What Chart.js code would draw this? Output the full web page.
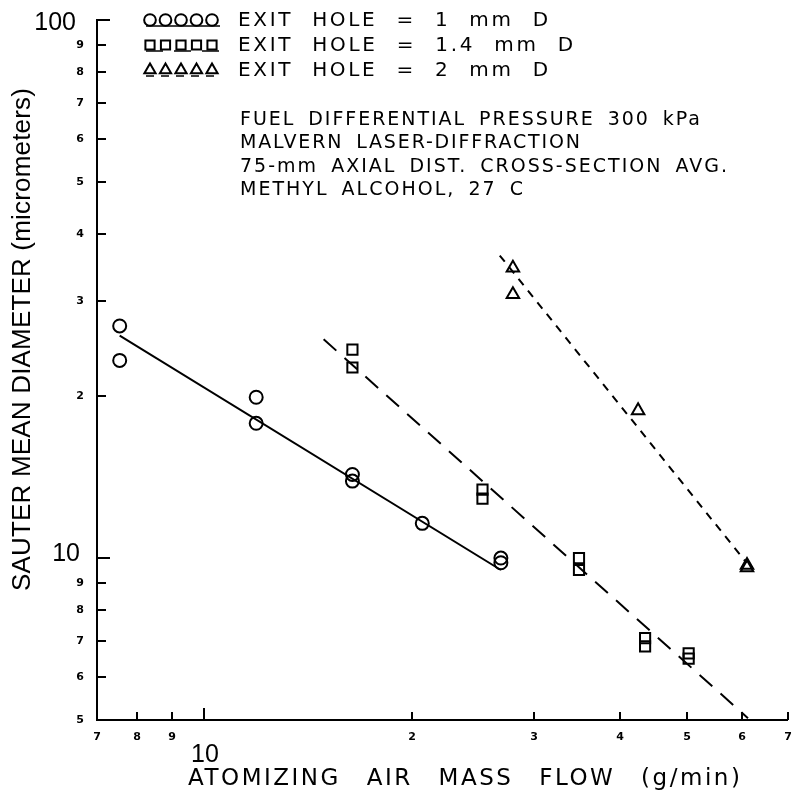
<!DOCTYPE html>
<html>
<head>
<meta charset="utf-8">
<title>Sauter mean diameter vs atomizing air mass flow</title>
<script src="https://cdn.jsdelivr.net/npm/chart.js@4.4.0/dist/chart.umd.min.js"></script>
<style>
html, body { margin: 0; padding: 0; background: #fff; }
#wrap { width: 797px; height: 803px; }
</style>
</head>
<body>
<div id="wrap"><canvas id="smdChart" width="797" height="803"></canvas></div>
<script>
// axis ticks (log-log paper)
const xTicks = [7, 8, 9, 10, 20, 30, 40, 50, 60, 70];
const xTickLabels = ['7', '8', '9', '10', '2', '3', '4', '5', '6', '7'];
const yTicks = [5, 6, 7, 8, 9, 10, 20, 30, 40, 50, 60, 70, 80, 90, 100];
const yTickLabels = ['5', '6', '7', '8', '9', '10', '2', '3', '4', '5', '6', '7', '8', '9', '100'];
const decadeTicks = [10, 100];

// measured points, exit hole 1 mm
const hole1X = [7.55, 7.55, 11.9, 11.9, 16.4, 16.4, 20.7, 26.9, 26.9];
const hole1Y = [27.0, 23.3, 19.9, 17.8, 14.3, 13.9, 11.6, 10.0, 9.8];
// exit hole 1.4 mm
const hole14X = [16.4, 16.4, 25.3, 25.3, 34.9, 34.9, 43.5, 43.5, 50.3, 50.3];
const hole14Y = [24.4, 22.6, 13.4, 12.9, 10.0, 9.5, 7.1, 6.85, 6.65, 6.5];
// exit hole 2 mm
const hole2X = [28.0, 28.0, 42.5, 61.1, 61.1];
const hole2Y = [34.6, 30.9, 18.8, 9.7, 9.6];

// fitted lines (end points)
const fit1X = [7.55, 26.9];
const fit1Y = [25.9, 9.5];
const fit14X = [14.9, 61.3];
const fit14Y = [25.5, 5.04];
const fit2X = [26.8, 61.0];
const fit2Y = [36.5, 9.8];

const legendLabels = ['EXIT HOLE = 1 mm D', 'EXIT HOLE = 1.4 mm D', 'EXIT HOLE = 2 mm D'];
const noteLines = [
    'FUEL DIFFERENTIAL PRESSURE 300 kPa',
    'MALVERN LASER-DIFFRACTION',
    '75-mm AXIAL DIST. CROSS-SECTION AVG.',
    'METHYL ALCOHOL, 27 C'
];
const xTitle = 'ATOMIZING AIR MASS FLOW (g/min)';
const yTitle = 'SAUTER MEAN DIAMETER (micrometers)';

const toPoints = (xs, ys) => xs.map((x, i) => ({ x: x, y: ys[i] }));

// draw text stretched to a given width: fixed extra word gap, letters take the rest
function fitText(ctx, text, x, y, width, wordGap) {
    wordGap = wordGap || 0;
    ctx.letterSpacing = '0px';
    ctx.wordSpacing = '0px';
    const w = ctx.measureText(text).width;
    const spaces = (text.match(/ /g) || []).length;
    const ls = (width - w - spaces * wordGap) / Math.max(text.length - 1, 1);
    ctx.letterSpacing = ls.toFixed(2) + 'px';
    ctx.wordSpacing = wordGap + 'px';
    ctx.fillText(text, x, y);
    ctx.letterSpacing = '0px';
    ctx.wordSpacing = '0px';
}

function drawMarker(ctx, style, r, cx, cy) {
    ctx.beginPath();
    if (style === 'circle') {
        ctx.arc(cx, cy, r, 0, Math.PI * 2);
    } else if (style === 'rect') {
        const s = r * Math.SQRT2 / 2;
        ctx.rect(cx - s, cy - s, s * 2, s * 2);
    } else {
        for (let k = 0; k < 3; k++) {
            const a = k * 2 * Math.PI / 3;
            const px = cx + Math.sin(a) * r, py = cy - Math.cos(a) * r;
            k === 0 ? ctx.moveTo(px, py) : ctx.lineTo(px, py);
        }
        ctx.closePath();
    }
    ctx.stroke();
}

const paperText = {
    id: 'paperText',
    afterDraw(chart) {
        const { ctx, scales: { x, y } } = chart;
        ctx.save();
        ctx.fillStyle = '#000';
        ctx.strokeStyle = '#000';
        ctx.lineWidth = 2;

        // y ticks + labels
        yTicks.forEach((v, i) => {
            const py = Math.round(y.getPixelForValue(v));
            const big = decadeTicks.includes(v);
            ctx.beginPath();
            ctx.moveTo(x.left, py);
            ctx.lineTo(x.left + (big ? 13 : 9), py);
            ctx.stroke();
            ctx.textBaseline = 'middle';
            ctx.textAlign = 'right';
            if (big) {
                ctx.font = '25px "Liberation Sans", Arial, sans-serif';
                const top = v === y.max;
                ctx.fillText(yTickLabels[i], x.left - (top ? 21 : 17), py + (top ? 3 : -4));
            } else {
                ctx.font = 'bold 11px "DejaVu Sans", sans-serif';
                ctx.fillText(yTickLabels[i], x.left - 13, py);
            }
        });

        // x ticks + labels
        xTicks.forEach((v, i) => {
            const px = Math.round(x.getPixelForValue(v));
            const big = decadeTicks.includes(v);
            ctx.beginPath();
            ctx.moveTo(px, y.bottom);
            ctx.lineTo(px, y.bottom - (big ? 12 : 8));
            ctx.stroke();
            ctx.textAlign = 'center';
            ctx.textBaseline = 'middle';
            if (big) {
                ctx.font = '25px "Liberation Sans", Arial, sans-serif';
                ctx.fillText(xTickLabels[i], px + 1, y.bottom + 35);
            } else {
                ctx.font = 'bold 11px "DejaVu Sans", sans-serif';
                ctx.fillText(xTickLabels[i], Math.min(px, 795), y.bottom + 17);
            }
        });

        // legend: five markers with line sample, then text
        const legendWidths = [310, 335, 310];
        legendLabels.forEach((label, i) => {
            const ds = chart.data.datasets[i];
            const fit = chart.data.datasets[i + 3];
            const rowY = 20 + i * 25;
            ctx.lineWidth = 1.6;
            ctx.setLineDash(fit.borderDash || []);
            ctx.beginPath();
            ctx.moveTo(146, rowY + 6);
            ctx.lineTo(220, rowY + 6);
            ctx.stroke();
            ctx.setLineDash([]);
            ctx.lineWidth = 2;
            for (let k = 0; k < 5; k++) {
                drawMarker(ctx, ds.pointStyle, ds.pointRadius * 0.9, 150 + k * 15.5, rowY);
            }
            ctx.font = '20px "DejaVu Sans", sans-serif';
            ctx.textAlign = 'left';
            ctx.textBaseline = 'middle';
            fitText(ctx, label, 238, rowY + 1, legendWidths[i], 10);
        });

        // notes
        const noteWidths = [460, 340, 487, 283];
        ctx.font = '19px "DejaVu Sans", sans-serif';
        noteLines.forEach((line, i) => {
            fitText(ctx, line, 240, 120 + i * 23.3, noteWidths[i], 5);
        });

        // axis titles
        ctx.font = '23px "DejaVu Sans", sans-serif';
        ctx.textBaseline = 'middle';
        fitText(ctx, xTitle, 188, 779, 552, 16);

        ctx.save();
        ctx.translate(23, 591);
        ctx.rotate(-Math.PI / 2);
        ctx.font = '26px "Liberation Sans", Arial, sans-serif';
        fitText(ctx, yTitle, 0, 0, 503, 0);
        ctx.restore();

        ctx.restore();
    }
};

const markerBase = {
    showLine: false,
    borderColor: '#000',
    backgroundColor: 'rgba(0,0,0,0)',
    pointBorderWidth: 2,
    pointBackgroundColor: 'rgba(0,0,0,0)',
    pointBorderColor: '#000'
};
const lineBase = {
    showLine: true,
    borderColor: '#000',
    pointRadius: 0,
    fill: false,
    tension: 0
};

const ctx = document.getElementById('smdChart').getContext('2d');
const chart = new Chart(ctx, {
    type: 'scatter',
    data: {
        datasets: [
            Object.assign({ label: legendLabels[0], data: toPoints(hole1X, hole1Y), pointStyle: 'circle', pointRadius: 6.5 }, markerBase),
            Object.assign({ label: legendLabels[1], data: toPoints(hole14X, hole14Y), pointStyle: 'rect', pointRadius: 7.2 }, markerBase),
            Object.assign({ label: legendLabels[2], data: toPoints(hole2X, hole2Y), pointStyle: 'triangle', pointRadius: 7.2 }, markerBase),
            Object.assign({ label: 'fit 1 mm', data: toPoints(fit1X, fit1Y), borderWidth: 2, borderDash: [] }, lineBase),
            Object.assign({ label: 'fit 1.4 mm', data: toPoints(fit14X, fit14Y), borderWidth: 2, borderDash: [17, 11] }, lineBase),
            Object.assign({ label: 'fit 2 mm', data: toPoints(fit2X, fit2Y), borderWidth: 2, borderDash: [8, 7] }, lineBase)
        ]
    },
    options: {
        responsive: false,
        animation: false,
        devicePixelRatio: 1,
        layout: { padding: { top: 20, right: 1, left: 0, bottom: 0 } },
        plugins: {
            legend: { display: false },
            tooltip: { enabled: false }
        },
        scales: {
            x: {
                type: 'logarithmic',
                min: 7,
                max: 70,
                afterFit: s => { s.height = 83; },
                ticks: { display: false },
                grid: { display: true, drawOnChartArea: false, drawTicks: false },
                border: { display: true, color: '#000', width: 2 }
            },
            y: {
                type: 'logarithmic',
                min: 5,
                max: 100,
                afterFit: s => { s.width = 97; },
                ticks: { display: false },
                grid: { display: true, drawOnChartArea: false, drawTicks: false },
                border: { display: true, color: '#000', width: 2 }
            }
        }
    },
    plugins: [paperText]
});
</script>
</body>
</html>
